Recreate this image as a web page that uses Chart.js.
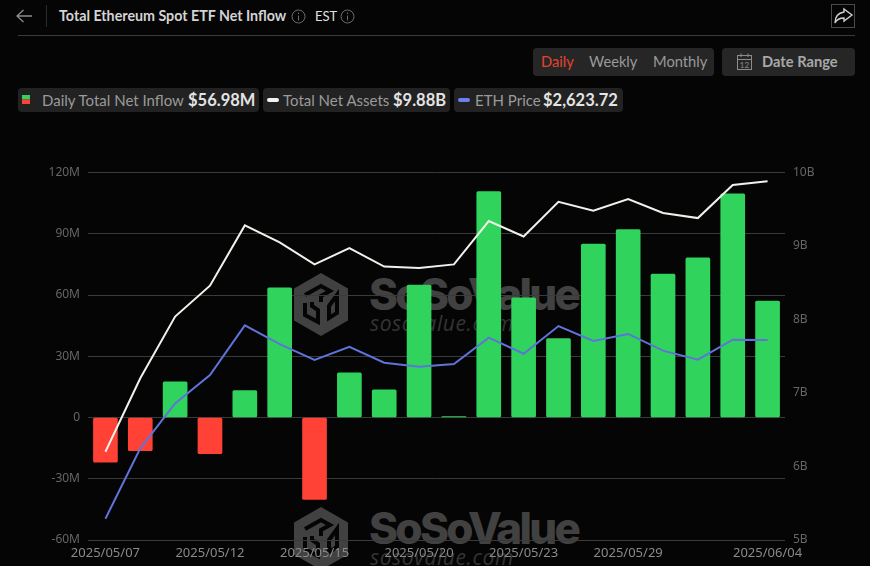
<!DOCTYPE html>
<html>
<head>
<meta charset="utf-8">
<script src="https://cdn.jsdelivr.net/npm/chart.js@4"></script>
<style>
html, body { margin: 0; padding: 0; background: #050505; }
body { width: 870px; height: 566px; position: relative; overflow: hidden; font-family: Lato, sans-serif; }
.abs { position: absolute; white-space: nowrap; }
.chip { position: absolute; top: 88px; height: 24px; background: #222; border-radius: 4px; line-height: 24px; font-size: 15px; color: #9a9a9a; white-space: nowrap; }
.chip b { color: #e4e4e4; font-size: 16.5px; }
.chip .t { position: absolute; top: 0; }
.btn { position: absolute; top: 48px; height: 28px; background: #262626; border-radius: 4px; line-height: 27px; font-size: 14.7px; color: #9a9a9a; }
.mark { position: absolute; left: 293px; width: 300px; height: 70px; }
.mark .big { position: absolute; left: 76px; top: -5px; font: 800 44px Inter, sans-serif; letter-spacing: -2.7px; color: #414141; }
.mark .small { position: absolute; left: 77px; top: 37px; font: italic 21px "Open Sans", sans-serif; color: #343434; letter-spacing: .6px; }
canvas { position: absolute; left: 0; top: 0; }
</style>
</head>
<body>
<!-- top bar -->
<svg class="abs" style="left:14px;top:6px" width="22" height="20" fill="none" stroke="#8c8c8c" stroke-width="1.3"><path d="M3 10H18M9.5 4L3 10L9.5 16"/></svg>
<div class="abs" style="left:46px;top:5px;width:1px;height:22px;background:#2c2c2c"></div>
<div class="abs" style="left:59px;top:7px;font-size:14.25px;font-weight:bold;color:#d4d4d4">Total Ethereum Spot ETF Net Inflow</div>
<svg class="abs" style="left:291px;top:9px" width="15" height="15" fill="none" stroke="#6b6b6b"><circle cx="7.5" cy="7.5" r="6.5"/><path d="M7.5 6.5V11.5M7.5 3.5V5"/></svg>
<div class="abs" style="left:315px;top:8px;font-size:13px;color:#e0e0e0">EST</div>
<svg class="abs" style="left:340px;top:9px" width="15" height="15" fill="none" stroke="#6b6b6b"><circle cx="7.5" cy="7.5" r="6.5"/><path d="M7.5 6.5V11.5M7.5 3.5V5"/></svg>
<svg class="abs" style="left:831px;top:4px" width="24" height="24" fill="none"><rect x=".5" y=".5" width="23" height="23" stroke="#4a4a4a"/><path d="M13 5L21 11L13 17V14C9 14 6 15 4 19C4 13 7 9 13 8Z" stroke="#cfcfcf" stroke-width="1.4"/></svg>
<div class="abs" style="left:18px;top:35px;width:837px;height:1px;background:#3a3a3a"></div>

<!-- period buttons -->
<div class="btn" style="left:533px;width:181px">
  <span class="abs" style="left:8px;color:#e5432f">Daily</span>
  <span class="abs" style="left:56px">Weekly</span>
  <span class="abs" style="left:120px">Monthly</span>
</div>
<div class="btn" style="left:722px;width:133px">
  <svg class="abs" style="left:14px;top:5px" width="17" height="18" fill="none" stroke="#8c8c8c"><rect x="1.5" y="2.5" width="14" height="14"/><path d="M1.5 6.5H15.5M5 .5V4M12 .5V4"/><text x="8.5" y="14.5" text-anchor="middle" font-size="8" fill="#8c8c8c" stroke="none" font-family="Lato">12</text></svg>
  <span class="abs" style="left:40px;font-weight:bold;color:#a8a8a8">Date Range</span>
</div>

<!-- legend chips -->
<div class="chip" style="left:18px;width:241px">
  <svg class="abs" style="left:4px;top:7px" width="8" height="9"><rect width="8" height="4.5" fill="#30d45c"/><rect y="4.5" width="8" height="4.5" fill="#ff4136"/></svg>
  <span class="t" style="left:24px">Daily Total Net Inflow</span>
  <b class="t" style="left:170px">$56.98M</b>
</div>
<div class="chip" style="left:263px;width:187px">
  <div class="abs" style="left:4px;top:10px;width:12px;height:4px;border-radius:2px;background:#f2f2f2"></div>
  <span class="t" style="left:20px">Total Net Assets</span>
  <b class="t" style="left:130px">$9.88B</b>
</div>
<div class="chip" style="left:454px;width:169px">
  <div class="abs" style="left:4px;top:10px;width:12px;height:4px;border-radius:2px;background:#6d80ee"></div>
  <span class="t" style="left:21px">ETH Price</span>
  <b class="t" style="left:89px">$2,623.72</b>
</div>

<!-- watermarks sit behind the canvas -->
<div class="mark" style="top:272px">
  <svg class="abs" style="left:0;top:0" width="56" height="65"><path d="M28 1L55 16.5V48.5L28 64L1 48.5V16.5Z" fill="#414141"/><path d="M12 23L28 14L37 19L28 24V30M44 23V41L36 46V34ZM12 31V43L25 50V38L19 34V30" fill="none" stroke="#050505" stroke-width="4"/></svg>
  <span class="big">SoSoValue</span>
  <span class="small">sosovalue.com</span>
</div>
<div class="mark" style="top:506px">
  <svg class="abs" style="left:0;top:0" width="56" height="65"><path d="M28 1L55 16.5V48.5L28 64L1 48.5V16.5Z" fill="#414141"/><path d="M12 23L28 14L37 19L28 24V30M44 23V41L36 46V34ZM12 31V43L25 50V38L19 34V30" fill="none" stroke="#050505" stroke-width="4"/></svg>
  <span class="big">SoSoValue</span>
  <span class="small">sosovalue.com</span>
</div>

<canvas id="etfChart" width="870" height="566"></canvas>

<script>
// Total Ethereum spot ETF
const dates = [
	"2025/05/07", "2025/05/08", "2025/05/09", "2025/05/12", "2025/05/13",
	"2025/05/14", "2025/05/15", "2025/05/16", "2025/05/19", "2025/05/20",
	"2025/05/21", "2025/05/22", "2025/05/23", "2025/05/27", "2025/05/28",
	"2025/05/29", "2025/05/30", "2025/06/02", "2025/06/03", "2025/06/04",
];
const shownDates = ["2025/05/07", "2025/05/12", "2025/05/15", "2025/05/20", "2025/05/23", "2025/05/29", "2025/06/04"];
// millions of USD
const netInflow = [-21.9, -16.2, 17.5, -17.7, 13.2, 63.5, -40.1, 21.9, 13.6, 64.8, 0.5, 110.6, 58.6, 38.6, 84.9, 92.1, 70.2, 78.2, 109.6, 56.98];
// billions of USD
const netAssets = [6.2, 7.2, 8.04, 8.46, 9.28, 9.05, 8.75, 8.97, 8.72, 8.7, 8.75, 9.34, 9.13, 9.6, 9.48, 9.64, 9.45, 9.38, 9.83, 9.88];
// USD
const ethPrice = [1810, 2130, 2335, 2464, 2690, 2605, 2533, 2592, 2520, 2502, 2514, 2634, 2561, 2687, 2619, 2651, 2575, 2534, 2625, 2623.72];

const GREEN = "#30d45c";
const RED = "#ff4136";
const tickFont = { family: "'Noto Sans', sans-serif", size: 12 };

new Chart(document.getElementById("etfChart"), {
	data: {
		labels: dates,
		datasets: [
			{
				type: "line",
				label: "Total Net Assets",
				data: netAssets,
				yAxisID: "assets",
				borderColor: "#f2f0ea",
				borderWidth: 2,
				pointRadius: 0,
				tension: 0,
				order: 1,
			},
			{
				type: "line",
				label: "ETH Price",
				data: ethPrice,
				yAxisID: "price",
				borderColor: "#5f73d8",
				borderWidth: 2,
				pointRadius: 0,
				tension: 0,
				order: 1,
			},
			{
				type: "bar",
				label: "Daily Total Net Inflow",
				data: netInflow,
				yAxisID: "inflow",
				backgroundColor: (c) => (c.raw < 0 ? RED : GREEN),
				barThickness: 24,
				borderRadius: 1.5,
				borderSkipped: false,
				order: 2,
			},
		],
	},
	options: {
		responsive: false,
		animation: false,
		layout: { padding: { top: 172.5, left: 0, right: 0, bottom: 0 } },
		plugins: { legend: { display: false }, tooltip: { enabled: false } },
		scales: {
			x: {
				grid: { display: false, drawTicks: false },
				border: { display: false },
				afterFit: (s) => { s.height = 26; },
				ticks: {
					autoSkip: false,
					maxRotation: 0,
					padding: 5,
					color: "#8a8a8a",
					font: { family: tickFont.family, size: 13 },
					callback(v) {
						const d = this.getLabelForValue(v);
						return shownDates.includes(d) ? d : "";
					},
				},
			},
			inflow: {
				position: "left",
				min: -60,
				max: 120,
				afterFit: (s) => { s.width = 88; },
				grid: { color: "#3a3a3a", lineWidth: 1, drawTicks: false },
				border: { display: false },
				ticks: {
					stepSize: 30,
					padding: 8,
					color: "#666666",
					font: tickFont,
					callback: (v) => (v === 0 ? "0" : v + "M"),
				},
			},
			assets: {
				position: "right",
				min: 5,
				max: 10,
				afterFit: (s) => { s.width = 85; },
				grid: { display: false, drawTicks: false },
				border: { display: false },
				ticks: {
					stepSize: 1,
					padding: 8,
					color: "#666666",
					font: tickFont,
					callback: (v) => v + "B",
				},
			},
			price: { display: false, min: 1713, max: 3386 },
		},
	},
});
</script>
</body>
</html>
